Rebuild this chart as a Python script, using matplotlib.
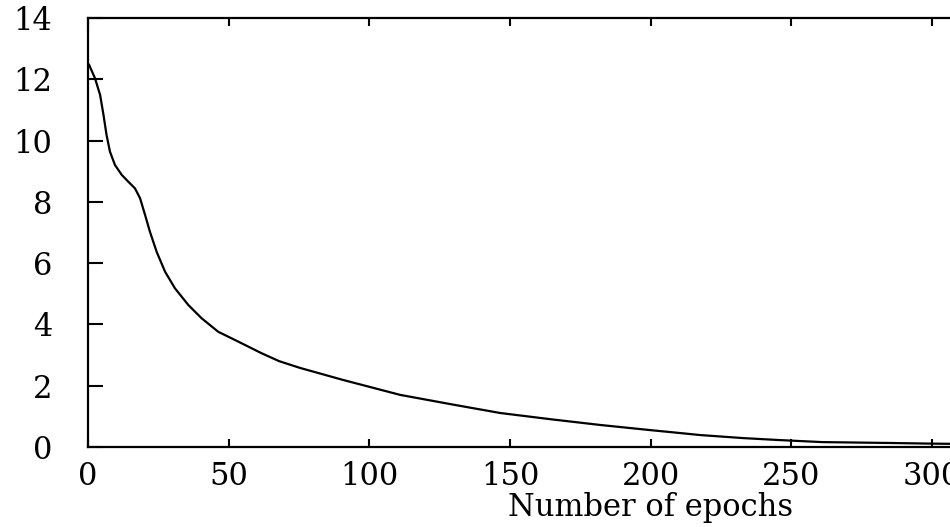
import matplotlib
matplotlib.use("Agg")
import matplotlib.pyplot as plt
import numpy as np

# training error vs epochs
epochs = [0.4, 2.5, 4.3, 5.5, 6.6, 7.8, 9.6, 12.0, 14.3, 16.7, 18.5, 20.3,
          22.0, 24.4, 27.4, 30.9, 35.7, 40.4, 46.3, 53.4, 61.7, 68.0, 75.4,
          90.6, 111.0, 130.0, 146.5, 165.0, 182.0, 200.0, 210.0, 217.6,
          233.0, 245.0, 261.0, 286.0, 300.0, 310.0]
error = [12.47, 12.03, 11.49, 10.84, 10.18, 9.64, 9.20, 8.88, 8.66, 8.44,
         8.12, 7.57, 7.03, 6.37, 5.72, 5.18, 4.63, 4.20, 3.76, 3.44, 3.06,
         2.80, 2.58, 2.19, 1.70, 1.38, 1.11, 0.90, 0.72, 0.55, 0.46, 0.39,
         0.29, 0.23, 0.16, 0.13, 0.11, 0.10]

x_ticks = np.arange(0, 401, 50)
y_ticks = np.arange(0, 15, 2)

W, H = 950, 527
fig = plt.figure(figsize=(W / 100, H / 100), dpi=100)
# plot area runs past the right edge of the picture (the original is cropped)
left, right, top, bottom = 88, 88 + 400 * 2.813, 18, 447
ax = fig.add_axes([left / W, (H - bottom) / H, (right - left) / W, (bottom - top) / H])

ax.plot(epochs, error, color="black", linewidth=1.6)

ax.set_xlim(0, 400)
ax.set_ylim(0, 14)
ax.set_xticks(x_ticks)
ax.set_yticks(y_ticks)

font = "DejaVu Serif"
# labels past 300 fall outside the picture anyway
ax.set_xticklabels([str(v) if v <= 300 else "" for v in x_ticks], fontsize=22, family=font)
ax.set_yticklabels([str(v) for v in y_ticks], fontsize=22, family=font)
ax.tick_params(axis="x", direction="in", length=6, width=1.5, top=True, pad=10)
ax.tick_params(axis="y", direction="in", length=11, width=1.5, right=True, pad=26)
for s in ax.spines.values():
    s.set_linewidth(1.6)

ax.set_xlabel("Number of epochs", fontsize=22, family=font, labelpad=0)

fig.savefig("out.png", dpi=100)
